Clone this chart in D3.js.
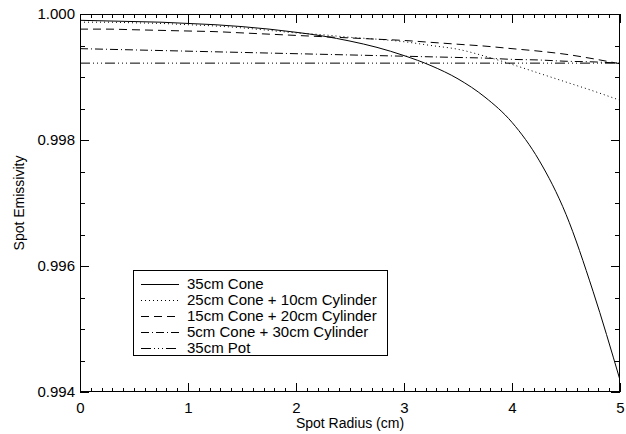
<!DOCTYPE html>
<html><head><meta charset="utf-8">
<script src="https://cdn.jsdelivr.net/npm/d3@7"></script>
<style>body{margin:0;background:#fff}svg{display:block}text{font-family:"Liberation Sans",Arial,sans-serif;fill:#000}</style>
</head><body><svg id="c" width="626" height="434"></svg>
<script>
const radius = [0,0.25,0.5,0.75,1,1.25,1.5,1.75,2,2.25,2.5,2.75,3,3.25,3.5,3.75,4,4.25,4.5,4.75,5];
const cone35 = [0.99990,0.99989,0.99988,0.99987,0.99985,0.99983,0.99980,0.99976,0.99971,0.99965,0.99957,0.99947,0.99934,0.99918,0.99897,0.99868,0.99828,0.99768,0.99682,0.99560,0.99419];
const cone25cyl10 = [0.99987,0.99987,0.99986,0.99985,0.99983,0.99981,0.99978,0.99974,0.99970,0.99967,0.99963,0.99960,0.99956,0.99950,0.99944,0.99933,0.99920,0.99906,0.99892,0.99878,0.99863];
const cone15cyl20 = [0.99976,0.99976,0.99975,0.99974,0.99973,0.99972,0.99970,0.99968,0.99966,0.99964,0.99962,0.99960,0.99958,0.99955,0.99952,0.99949,0.99945,0.99941,0.99936,0.99929,0.99921];
const cone5cyl30 = [0.99945,0.99944,0.99943,0.99942,0.99941,0.99940,0.99939,0.99938,0.99937,0.99936,0.99935,0.99934,0.99933,0.99932,0.99931,0.99930,0.99928,0.99927,0.99925,0.99924,0.99922];
const pot35 = [0.99922,0.99922,0.99922,0.99922,0.99922,0.99922,0.99922,0.99922,0.99922,0.99922,0.99922,0.99922,0.99922,0.99922,0.99922,0.99922,0.99922,0.99922,0.99922,0.99922,0.99922];
const seriesNames = ["35cm Cone","25cm Cone + 10cm Cylinder","15cm Cone + 20cm Cylinder","5cm Cone + 30cm Cylinder","35cm Pot"];
const xTicks = [0,1,2,3,4,5];
const yTicks = [0.994,0.996,0.998,1.000];

const svg = d3.select("#c");
const L=80,R=620,T=14,B=392;
const x = d3.scaleLinear().domain([0,5]).range([L,R]);
const y = d3.scaleLinear().domain([0.994,1.000]).range([B,T]);
const dashes = [null,"1,3","8,5","8,3,1,3","10,3,1,3,1,3,1,3"];
const data = [cone35,cone25cyl10,cone15cyl20,cone5cyl30,pot35];

svg.append("clipPath").attr("id","pc").append("rect").attr("x",L).attr("y",T).attr("width",R-L).attr("height",B-T);
const line = d3.line().x((d,i)=>x(radius[i])).y(d=>y(d)).curve(d3.curveMonotoneX);
data.forEach((s,k)=>{
  svg.append("path").datum(s).attr("d",line).attr("fill","none").attr("stroke","#000")
    .attr("stroke-width",1).attr("stroke-dasharray",dashes[k]).attr("clip-path","url(#pc)");
});

// axes
const xMinor = d3.range(0,5.0001,0.1);
const yMinor = d3.range(0.994,1.00001,0.0005);
const bottom = d3.axisBottom(x).tickValues(xTicks).tickFormat(d3.format("d")).tickSize(0).tickPadding(10);
const gb = svg.append("g").attr("transform",`translate(0,${B})`).call(bottom);
const left = d3.axisLeft(y).tickValues(yTicks).tickFormat(d3.format(".3f")).tickSize(0).tickPadding(5);
const gl = svg.append("g").attr("transform",`translate(${L},0)`).call(left);
[gb,gl].forEach(g=>{g.select(".domain").remove();g.selectAll("text").style("font-size","15px").attr("fill","#000");});

const frame = svg.append("g").attr("stroke","#000").attr("stroke-width",1).attr("fill","none");
frame.append("rect").attr("x",L+0.5).attr("y",T+0.5).attr("width",R-L-1).attr("height",B-T-1);
xMinor.forEach(v=>{
  const major = Math.abs(v-Math.round(v))<1e-6;
  const len = major?9:4;
  const px = Math.round(x(v))+0.5;
  frame.append("line").attr("x1",px).attr("x2",px).attr("y1",B).attr("y2",B-len);
  frame.append("line").attr("x1",px).attr("x2",px).attr("y1",T).attr("y2",T+len);
});
yMinor.forEach((v,i)=>{
  const major = i%4===0;
  const len = major?9:5;
  const py = Math.round(y(v))+0.5;
  frame.append("line").attr("x1",L).attr("x2",L+len).attr("y1",py).attr("y2",py);
  frame.append("line").attr("x1",R).attr("x2",R-len).attr("y1",py).attr("y2",py);
});

svg.append("text").attr("x",(L+R)/2).attr("y",428).attr("text-anchor","middle").style("font-size","14px").text("Spot Radius (cm)");
svg.append("text").attr("transform",`translate(24,${(T+B)/2}) rotate(-90)`).attr("text-anchor","middle").style("font-size","14px").text("Spot Emissivity");

// legend
const lg = svg.append("g");
lg.append("rect").attr("x",133.5).attr("y",270.5).attr("width",254).attr("height",85).attr("fill","#fff").attr("stroke","#000");
seriesNames.forEach((n,k)=>{
  const yy = 284 + k*16;
  lg.append("line").attr("x1",141).attr("x2",179).attr("y1",yy+0.5).attr("y2",yy+0.5).attr("stroke","#000").attr("stroke-width",1).attr("stroke-dasharray",dashes[k]);
  lg.append("text").attr("x",187).attr("y",yy+5).style("font-size","15px").text(n);
});
</script></body></html>
